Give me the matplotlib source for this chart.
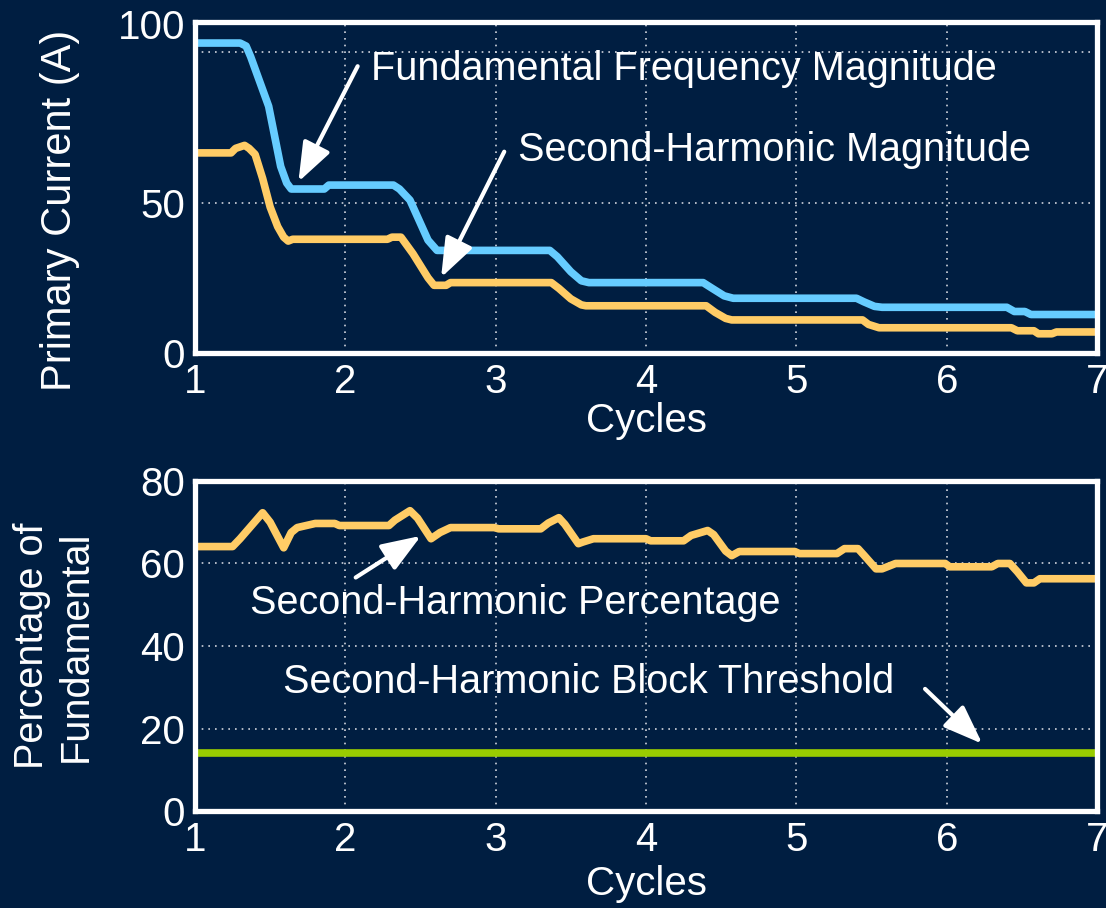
import numpy as np
import matplotlib.pyplot as plt
import matplotlib.transforms as mtransforms

# fundamental and 2nd harmonic magnitude (A) vs cycles
t_fund = [1.0, 1.30, 1.34, 1.37, 1.49, 1.57, 1.61, 1.64, 1.86, 1.89, 2.32, 2.36, 2.43, 2.55, 2.61,
          3.36, 3.41, 3.50, 3.57, 3.62, 4.38, 4.44, 4.52, 4.58, 5.40, 5.45, 5.52, 5.57,
          6.40, 6.45, 6.52, 6.56, 7.0]
i_fund = [103, 103, 102, 98.5, 82, 62, 56.5, 54.5, 54.5, 55.8, 55.8, 54.5, 50.8, 37.5, 34.1,
          34.1, 32, 27, 24, 23.4, 23.4, 21.5, 19, 18.2, 18.2, 17, 15.5, 15.2,
          15.2, 13.8, 13.8, 12.8, 12.8]

t_h2 = [1.0, 1.24, 1.27, 1.33, 1.36, 1.40, 1.45, 1.50, 1.55, 1.59, 1.62, 1.65, 2.28, 2.31, 2.37,
        2.45, 2.55, 2.59, 2.67, 2.70, 3.37, 3.42, 3.50, 3.57, 3.60, 4.40, 4.46, 4.53, 4.57,
        5.44, 5.48, 5.55, 6.43, 6.47, 6.58, 6.61, 6.70, 6.73, 7.0]
i_h2 = [66.5, 66.5, 68, 69, 68, 66, 58, 48.5, 42, 38.5, 37.2, 37.8, 37.8, 38.5, 38.5,
        33, 25, 22.5, 22.5, 23.4, 23.4, 21.5, 18, 16, 15.7, 15.7, 13.5, 11.5, 11.0,
        11.0, 9.5, 8.4, 8.4, 7.4, 7.4, 6.4, 6.4, 7.0, 7.0]

# 2nd harmonic as percent of fundamental
t_pct = [1.0, 1.25, 1.30, 1.45, 1.50, 1.59, 1.64, 1.68, 1.80, 1.93, 1.96, 2.29, 2.33, 2.43, 2.48,
         2.57, 2.63, 2.70, 2.99, 3.02, 3.30, 3.35, 3.42, 3.46, 3.55, 3.58, 3.65, 4.0, 4.03,
         4.25, 4.30, 4.41, 4.45, 4.53, 4.57, 4.62, 4.99, 5.02, 5.27, 5.32, 5.41, 5.45, 5.53,
         5.57, 5.66, 5.99, 6.02, 6.30, 6.34, 6.42, 6.47, 6.53, 6.58, 6.62, 7.0]
pct = [64.1, 64.1, 66, 72.3, 70, 63.8, 67.5, 68.7, 69.7, 69.7, 69.2, 69.2, 70.5, 72.8, 71,
       66.0, 67.5, 68.7, 68.7, 68.4, 68.4, 69.8, 71.1, 69.5, 64.8, 65.2, 66.0, 66.0, 65.5,
       65.5, 66.8, 68.0, 67, 63, 61.9, 62.9, 62.9, 62.4, 62.4, 63.6, 63.6, 62, 58.7,
       58.7, 60.0, 60.0, 59.2, 59.2, 60.0, 60.0, 58, 55.3, 55.3, 56.3, 56.3]
threshold = 14

bg = '#001e41'
white = 'white'
blue = '#66ccff'
yellow = '#ffcc66'
green = '#99cc00'

plt.rcParams['font.family'] = ['Liberation Sans', 'DejaVu Sans']

fig = plt.figure(figsize=(11.06, 9.08), dpi=100, facecolor=bg)
ax1 = fig.add_axes([0.1763, 0.6112, 0.8156, 0.3646])
ax2 = fig.add_axes([0.1763, 0.1068, 0.8156, 0.3635])

for ax in (ax1, ax2):
    ax.set_facecolor(bg)
    for s in ax.spines.values():
        s.set_color(white)
        s.set_linewidth(3.8)
    ax.tick_params(colors=white, length=0, labelsize=29, pad=7)
    ax.grid(True, color='#d0d4dc', linestyle=(0, (1, 3)), linewidth=1.2)
    ax.set_xlim(1, 7)
    ax.set_xticks(range(1, 8))
    ax.set_xlabel('Cycles', color=white, fontsize=29, va='top')

ax1.xaxis.set_label_coords(0.5, -0.148)
ax2.xaxis.set_label_coords(0.5, -0.165)

# arrow style shared by the callouts
arr = dict(arrowstyle='-|>,head_length=1.2,head_width=0.45', color=white, lw=3,
           mutation_scale=20, shrinkA=0, shrinkB=0)

# top: magnitudes
ax1.plot(t_fund, i_fund, color=blue, lw=5.5, solid_joinstyle='round')
ax1.plot(t_h2, i_h2, color=yellow, lw=5.5, solid_joinstyle='round')
ax1.set_ylim(0, 110)
ax1.set_yticks([0, 50, 100])
ax1.set_ylabel('Primary Current (A)', color=white, fontsize=30)
ax1.yaxis.set_label_coords(-0.127, 0.43)
# nudge the top tick label up to the frame
lbl = ax1.get_yticklabels()[-1]
lbl.set_transform(lbl.get_transform() + mtransforms.ScaledTranslation(0, 0.28, fig.dpi_scale_trans))

ax1.text(2.169, 94.3, 'Fundamental Frequency Magnitude', color=white, fontsize=28.5, va='center')
ax1.annotate('', xy=(1.688, 56.9), xytext=(2.082, 95.3), arrowprops=arr)
ax1.text(3.151, 67.6, 'Second-Harmonic Magnitude', color=white, fontsize=28.5, va='center')
ax1.annotate('', xy=(2.637, 25.1), xytext=(3.057, 66.9), arrowprops=arr)

# bottom: percentage and block threshold
ax2.plot(t_pct, pct, color=yellow, lw=5.5, solid_joinstyle='round')
ax2.axhline(threshold, color=green, lw=5.5)
ax2.set_ylim(0, 80)
ax2.set_yticks([0, 20, 40, 60, 80])
ax2.set_ylabel('Percentage of\nFundamental', color=white, fontsize=28.5)
ax2.yaxis.set_label_coords(-0.111, 0.5)

ax2.text(1.367, 50.5, 'Second-Harmonic Percentage', color=white, fontsize=28.5, va='center')
ax2.annotate('', xy=(2.503, 66.7), xytext=(2.069, 56.6), arrowprops=arr)
ax2.text(1.588, 31.3, 'Second-Harmonic Block Threshold', color=white, fontsize=28.5, va='center')
ax2.annotate('', xy=(6.237, 16.3), xytext=(5.856, 29.6), arrowprops=arr)

fig.savefig('out.png', dpi=100, facecolor=bg)
